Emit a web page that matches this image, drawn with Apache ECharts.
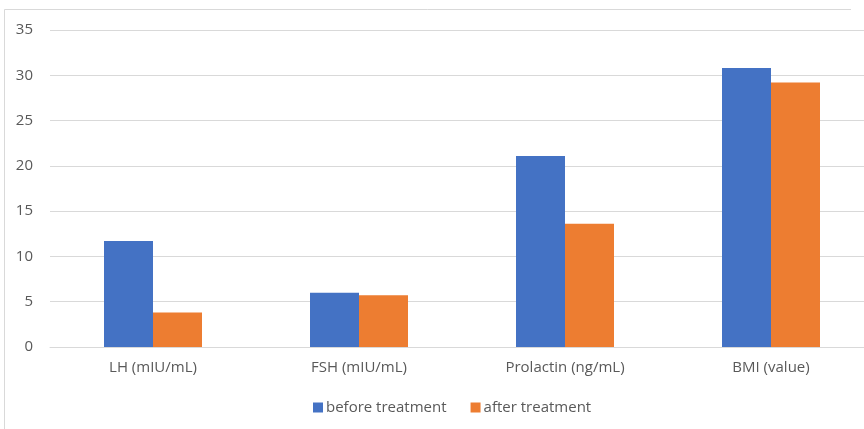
<!DOCTYPE html>
<html>
<head>
<meta charset="utf-8">
<script src="https://cdn.jsdelivr.net/npm/echarts@6/dist/echarts.min.js"></script>
<style>
  html, body { margin: 0; padding: 0; background: #fff; overflow: hidden; }
  /* the plot runs slightly past the right edge of the window */
  #chart { width: 874px; height: 429px; }
</style>
</head>
<body>
<div id="chart"></div>
<script>
// Hormone levels and BMI before and after treatment
const categories = ['LH (mIU/mL)', 'FSH (mIU/mL)', 'Prolactin (ng/mL)', 'BMI (value)'];
const beforeTreatment = [11.7, 6.0, 21.1, 30.8];
const afterTreatment = [3.8, 5.7, 13.6, 29.2];
const seriesNames = ['before treatment', 'after treatment'];
const yTicks = { min: 0, max: 35, interval: 5 };

const FONT = '"Open Sans", "Noto Sans", sans-serif';
const TEXT_COLOR = '#595959';
const FONT_SIZE = 15;

const chart = echarts.init(document.getElementById('chart'), null, { renderer: 'canvas' });

chart.setOption({
  animation: false,
  backgroundColor: '#ffffff',
  textStyle: { fontFamily: FONT },
  graphic: [
    // chart-area frame (top and left edges)
    { type: 'line', shape: { x1: 4.5, y1: 9.5, x2: 851, y2: 9.5 }, style: { stroke: '#d9d9d9', lineWidth: 1 } },
    { type: 'line', shape: { x1: 4.5, y1: 9.5, x2: 4.5, y2: 429 }, style: { stroke: '#d9d9d9', lineWidth: 1 } }
  ],
  grid: { left: 50, top: 30, right: 0, bottom: 82, containLabel: false },
  legend: {
    data: seriesNames,
    left: 313,
    top: 400,
    padding: 0,
    itemWidth: 10,
    itemHeight: 10,
    itemGap: 24,
    icon: 'rect',
    textStyle: { color: TEXT_COLOR, fontSize: FONT_SIZE, fontFamily: FONT, padding: [0, 0, 0, -2] }
  },
  xAxis: {
    type: 'category',
    data: categories,
    axisLine: { show: true, lineStyle: { color: '#d9d9d9', width: 1 } },
    axisTick: { show: false },
    axisLabel: { color: TEXT_COLOR, fontSize: FONT_SIZE, fontFamily: FONT, margin: 13 }
  },
  yAxis: {
    type: 'value',
    min: yTicks.min,
    max: yTicks.max,
    interval: yTicks.interval,
    axisLine: { show: false },
    axisTick: { show: false },
    axisLabel: { color: TEXT_COLOR, fontSize: FONT_SIZE, fontFamily: FONT, margin: 17 },
    splitLine: { show: true, lineStyle: { color: '#d9d9d9', width: 1 } }
  },
  series: [
    {
      name: seriesNames[0],
      type: 'bar',
      data: beforeTreatment,
      barWidth: 49,
      barGap: '0%',
      itemStyle: { color: '#4472c4' }
    },
    {
      name: seriesNames[1],
      type: 'bar',
      data: afterTreatment,
      barWidth: 49,
      barGap: '0%',
      itemStyle: { color: '#ed7d31' }
    }
  ]
});
</script>
</body>
</html>
